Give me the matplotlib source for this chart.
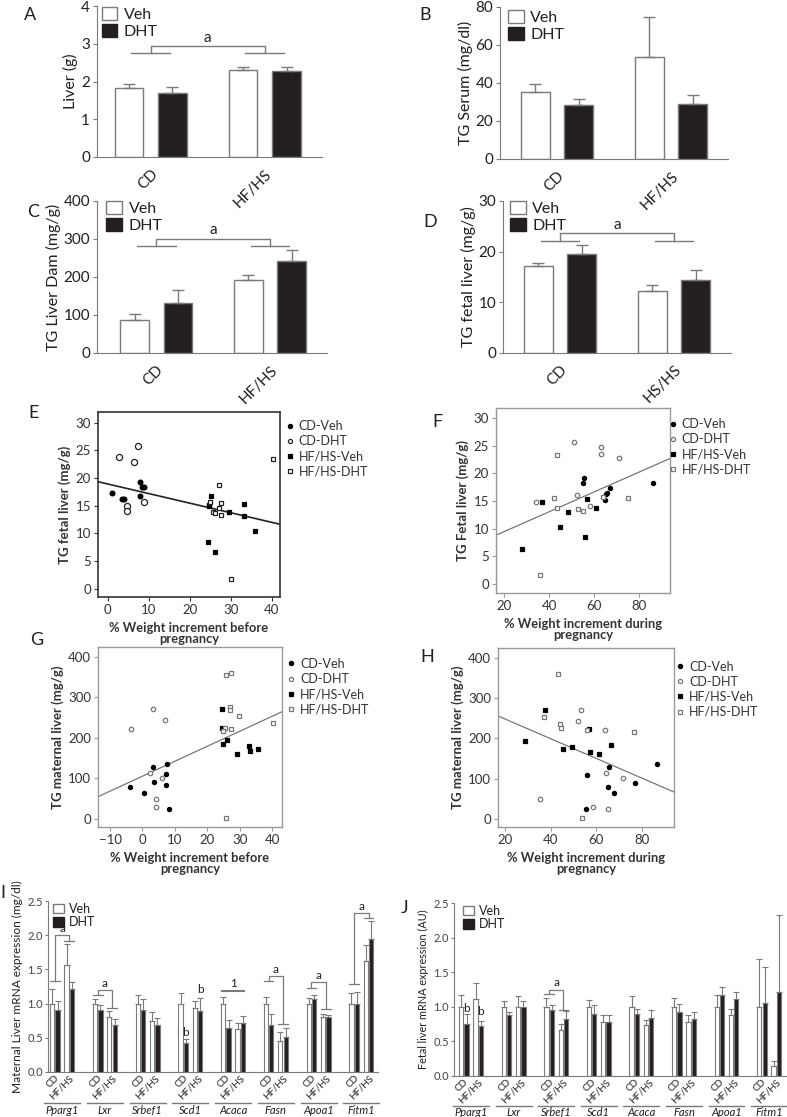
import numpy as np
import matplotlib
matplotlib.use('Agg')
import matplotlib.pyplot as plt
from matplotlib.patches import Patch
from matplotlib.lines import Line2D
from matplotlib.transforms import blended_transform_factory

plt.rcParams['font.family'] = ['Lato', 'DejaVu Sans']
plt.rcParams['axes.facecolor'] = 'none'

W, H = 787, 1117
EDGE = '#7a7a7a'
BLACK = '#231f20'
TXT = '#231f20'

# ---- panels A-D : [CD, HF/HS], error = top of bar - mean
groups = ['CD', 'HF/HS']
groups_d = ['CD', 'HS/HS']
liver_veh = [1.82, 2.31]
liver_veh_err = [0.11, 0.08]
liver_dht = [1.70, 2.28]
liver_dht_err = [0.16, 0.11]

serum_veh = [35.0, 53.5]
serum_veh_err = [4.7, 21.5]
serum_dht = [28.5, 29.0]
serum_dht_err = [3.3, 4.6]

dam_veh = [88, 193]
dam_veh_err = [14, 13]
dam_dht = [131, 241]
dam_dht_err = [36, 31]

fetal_veh = [17.2, 12.3]
fetal_veh_err = [0.6, 1.2]
fetal_dht = [19.6, 14.4]
fetal_dht_err = [1.8, 1.9]

# ---- panels E-H : scatter
scatter_labels = ['CD-Veh', 'CD-DHT', 'HF/HS-Veh', 'HF/HS-DHT']

e_cdveh_x = [1.0, 3.5, 4.0, 7.8, 8.3, 8.7, 7.8]
e_cdveh_y = [17.3, 16.2, 16.2, 19.2, 18.4, 18.3, 16.7]
e_cddht_x = [2.7, 7.4, 6.5, 4.7, 4.7, 8.7]
e_cddht_y = [23.7, 25.8, 22.8, 15.0, 14.0, 15.7]
e_hfveh_x = [25.2, 24.8, 24.8, 29.5, 33.1, 33.3, 35.9, 24.5, 26.1]
e_hfveh_y = [16.7, 15.2, 14.9, 13.9, 13.1, 15.3, 10.5, 8.5, 6.6]
e_hfdht_x = [27.1, 25.0, 27.6, 27.2, 25.7, 26.1, 27.6, 30.1, 40.2]
e_hfdht_y = [18.8, 15.6, 15.5, 14.6, 13.9, 13.7, 13.3, 1.7, 23.4]
e_fit = (-0.173, 18.9)  # slope, intercept

f_cdveh_x = [55.0, 55.6, 64.8, 65.2, 65.7, 67.2, 86.2]
f_cdveh_y = [18.2, 19.1, 15.2, 16.2, 16.5, 17.3, 18.3]
f_cddht_x = [51.3, 63.3, 63.3, 71.2, 34.3, 52.4, 58.1]
f_cddht_y = [25.7, 24.7, 23.5, 22.8, 14.8, 16.1, 14.1]
f_hfveh_x = [37.0, 28.0, 44.7, 48.3, 56.8, 60.8, 55.9]
f_hfveh_y = [14.9, 6.4, 10.4, 13.0, 15.3, 13.8, 8.5]
f_hfdht_x = [43.4, 42.3, 43.7, 53.0, 55.3, 75.1, 35.9, 64.0]
f_hfdht_y = [23.3, 15.5, 13.7, 13.5, 13.2, 15.5, 1.6, 15.7]
f_fit = (0.179, 5.9)

g_cdveh_x = [3.1, 7.6, 7.4, 3.7, 7.3, -3.9, 0.5, 8.3]
g_cdveh_y = [129, 137, 110, 91, 84, 80, 65, 24]
g_cddht_x = [-3.4, 3.4, 7.0, 2.3, 6.1, 4.2, 4.2]
g_cddht_y = [222, 272, 244, 114, 102, 49, 30]
g_hfveh_x = [24.6, 24.4, 24.9, 25.9, 29.2, 32.7, 33.1, 35.6]
g_hfveh_y = [272, 225, 184, 194, 161, 179, 168, 174]
g_hfdht_x = [25.7, 27.3, 27.0, 27.0, 29.9, 40.2, 25.3, 24.8, 27.3, 25.8]
g_hfdht_y = [356, 361, 277, 269, 254, 237, 225, 218, 222, 2.5]
g_fit = (3.70, 105.7)

h_cdveh_x = [65.7, 56.2, 65.1, 77.1, 86.5, 55.5, 67.9]
h_cdveh_y = [129, 109, 80, 90, 136, 24, 65]
h_cddht_x = [53.3, 52.1, 63.8, 64.1, 71.7, 35.3, 58.6, 65.3]
h_cddht_y = [272, 243, 221, 114, 102, 49, 30, 24]
h_hfveh_x = [37.8, 28.9, 45.4, 49.2, 56.8, 57.4, 61.3, 66.3]
h_hfveh_y = [272, 194, 173, 178, 224, 167, 161, 184]
h_hfdht_x = [43.1, 37.0, 44.2, 44.4, 55.9, 76.5, 53.9]
h_hfdht_y = [361, 253, 236, 225, 222, 217, 2.5]
h_fit = (-2.45, 297.6)

# ---- panels I-J : gene expression [CD-Veh, CD-DHT, HF-Veh, HF-DHT]
genes = ['Pparg1', 'Lxr', 'Srbef1', 'Scd1', 'Acaca', 'Fasn', 'Apoa1', 'Fitm1']

i_cdveh = [1.0, 1.0, 1.0, 1.0, 1.0, 1.0, 1.0, 1.0]
i_cdveh_err = [0.21, 0.07, 0.13, 0.16, 0.10, 0.10, 0.08, 0.15]
i_cddht = [0.90, 0.90, 0.90, 0.42, 0.65, 0.68, 1.06, 1.00]
i_cddht_err = [0.14, 0.08, 0.17, 0.06, 0.11, 0.17, 0.07, 0.17]
i_hfveh = [1.56, 0.80, 0.75, 0.93, 0.63, 0.46, 0.80, 1.62]
i_hfveh_err = [0.31, 0.09, 0.13, 0.11, 0.09, 0.12, 0.05, 0.24]
i_hfdht = [1.22, 0.68, 0.68, 0.89, 0.72, 0.51, 0.80, 1.94]
i_hfdht_err = [0.09, 0.10, 0.11, 0.19, 0.10, 0.13, 0.03, 0.27]
# (gene, y over CD pair, y over HF pair, bracket top, label)
i_brackets = [(0, 1.33, 1.91, 2.00, 'a'), (1, 1.13, 0.94, 1.20, 'a'),
              (5, 1.33, 0.70, 1.40, 'a'), (6, 1.235, 0.915, 1.31, 'a'),
              (7, 1.29, 2.25, 2.32, 'a')]
# (gene, bar index, y, label)
i_letters = [(3, 1, 0.50, 'b'), (3, 3, 1.12, 'b')]

j_cdveh = [1.0, 1.0, 1.0, 1.0, 1.0, 1.0, 1.0, 1.0]
j_cdveh_err = [0.17, 0.09, 0.12, 0.10, 0.15, 0.12, 0.17, 0.69]
j_cddht = [0.75, 0.88, 0.96, 0.90, 0.89, 0.93, 1.17, 1.05]
j_cddht_err = [0.14, 0.05, 0.07, 0.12, 0.08, 0.11, 0.11, 0.53]
j_hfveh = [1.11, 1.00, 0.66, 0.78, 0.73, 0.78, 0.88, 0.14]
j_hfveh_err = [0.23, 0.15, 0.09, 0.10, 0.08, 0.10, 0.09, 0.07]
j_hfdht = [0.72, 1.00, 0.83, 0.78, 0.84, 0.82, 1.11, 1.21]
j_hfdht_err = [0.08, 0.08, 0.11, 0.10, 0.12, 0.10, 0.11, 1.11]
j_brackets = [(2, 1.18, 0.95, 1.25, 'a')]
j_letters = [(0, 1, 0.90, 'b'), (0, 3, 0.85, 'b')]


def px_axes(fig, x0, y0, x1, y1):
    """ピクセル座標で軸を追加"""
    return fig.add_axes([x0 / W, 1 - y1 / H, (x1 - x0) / W, (y1 - y0) / H])


def veh_dht_legend(ax, x, y, fs=11.5, size=1.0):
    handles = [Patch(facecolor='white', edgecolor=EDGE, linewidth=1),
               Patch(facecolor=BLACK, edgecolor=BLACK)]
    ax.legend(handles, ['Veh', 'DHT'], loc='upper left', bbox_to_anchor=(x, y),
              frameon=False, fontsize=fs, handlelength=size, handleheight=size * 0.9,
              handletextpad=0.4, labelspacing=0.12, borderpad=0, borderaxespad=0,
              labelcolor=TXT)


def bar_panel(ax, veh, veh_err, dht, dht_err, ylim, ystep, ylabel, xlabels, xlim,
              bracket=None, leg=(0.02, 1.0)):
    x = np.arange(len(veh))
    ekw = dict(ecolor=EDGE, elinewidth=1, capsize=4, capthick=1)
    ax.bar(x - 0.19, veh, 0.25, yerr=[np.zeros(len(veh)), veh_err], color='white',
           edgecolor=EDGE, linewidth=1, error_kw=ekw, zorder=2)
    ax.bar(x + 0.19, dht, 0.25, yerr=[np.zeros(len(dht)), dht_err], color=BLACK,
           edgecolor=EDGE, linewidth=1, error_kw=ekw, zorder=2)
    ax.set_ylim(*ylim)
    ax.set_xlim(*xlim)
    ax.set_yticks(np.arange(ylim[0], ylim[1] + ystep / 2, ystep))
    ax.set_xticks(x)
    ax.set_xticklabels(xlabels, rotation=45, ha='right', rotation_mode='anchor',
                       fontsize=11, color=TXT)
    ax.tick_params(axis='x', length=0, pad=7)
    ax.tick_params(axis='y', length=3, color=EDGE, labelsize=11, labelcolor=TXT, pad=2)
    ax.set_ylabel(ylabel, fontsize=11.5, color=TXT, labelpad=2)
    for s in ['top', 'right']:
        ax.spines[s].set_visible(False)
    for s in ['left', 'bottom']:
        ax.spines[s].set_color(EDGE)
    if bracket:
        y_low, y_top = bracket
        for g in x:
            ax.plot([g - 0.17, g + 0.17], [y_low, y_low], color=EDGE, lw=1)
        ax.plot([0, 0, 1, 1], [y_low, y_top, y_top, y_low], color=EDGE, lw=1)
        ax.text(0.5, y_top + (ylim[1] - ylim[0]) * 0.01, 'a', ha='center', va='bottom',
                fontsize=11, color=TXT)
    veh_dht_legend(ax, *leg)


def scatter_panel(ax, sets, fit, xlim, ylim, xticks, yticks, ylabel, xlabel,
                  leg, dark=False):
    frame = '#333333' if dark else '#999999'
    hollow = '#222222' if dark else '#777777'
    if dark:
        sizes = [3.4, 4.4, 3.4, 3.4]
    else:
        sizes = [3.0, 3.2, 3.0, 3.2]
    styles = [dict(marker='o', mfc='black', mec='black'),
              dict(marker='o', mfc='white', mec=hollow),
              dict(marker='s', mfc='black', mec='black'),
              dict(marker='s', mfc='white', mec=hollow)]
    for (xs, ys), st, ms in zip(sets, styles, sizes):
        ax.plot(xs, ys, ls='none', mew=0.9, ms=ms, zorder=3, **st)
    slope, icpt = fit
    ax.axline((0, icpt), slope=slope, color='#222222' if dark else '#777777',
              lw=1.2 if dark else 0.9, zorder=2)
    ax.set_xlim(*xlim)
    ax.set_ylim(*ylim)
    ax.set_xticks(xticks)
    ax.set_yticks(yticks)
    ax.tick_params(length=3, color=frame, labelsize=9.5, labelcolor='#333333', pad=2)
    for s in ax.spines.values():
        s.set_color(frame)
        s.set_linewidth(1.2 if dark else 1.0)
    ax.set_ylabel(ylabel, fontsize=9.5, fontweight='bold', color='#333333', labelpad=3)
    ax.set_xlabel(xlabel, fontsize=9.3, fontweight='bold', color='#333333',
                  linespacing=0.92, labelpad=4)
    handles = [Line2D([], [], ls='none', mew=0.9, ms=3, **st) for st in styles]
    ax.legend(handles, scatter_labels, loc='upper left', bbox_to_anchor=leg,
              frameon=False, fontsize=9, handlelength=0.6, handletextpad=0.4,
              labelspacing=0.25, borderpad=0, borderaxespad=0, labelcolor='#333333')


def gene_panel(ax, vals, errs, ylabel, ylabel_fs, brackets, letters, xlim, line_y, name_y):
    offs = [-0.23, -0.105, 0.105, 0.23]
    colors = ['white', BLACK, 'white', BLACK]
    x = np.arange(len(genes))
    ekw = dict(ecolor=EDGE, elinewidth=0.8, capsize=2, capthick=0.8)
    for v, e, o, c in zip(vals, errs, offs, colors):
        ax.bar(x + o, v, 0.1, yerr=[np.zeros(len(v)), e], color=c, edgecolor=EDGE,
               linewidth=0.8, error_kw=ekw, zorder=2)
    ax.set_xlim(*xlim)
    ax.set_ylim(0, 2.5)
    ax.set_yticks(np.arange(0, 2.51, 0.5))
    ax.set_yticklabels([f'{t:.1f}' for t in np.arange(0, 2.51, 0.5)])
    ticks = np.sort(np.concatenate([x - 0.17, x + 0.17]))
    ax.set_xticks(ticks)
    ax.set_xticklabels(['CD', 'HF/HS'] * len(genes), rotation=45, ha='right',
                       rotation_mode='anchor', fontsize=7, color=TXT)
    ax.tick_params(axis='x', length=0, pad=1)
    ax.tick_params(axis='y', length=2.5, color=EDGE, labelsize=8, labelcolor='#444444', pad=1)
    ax.set_ylabel(ylabel, fontsize=ylabel_fs, color=TXT, labelpad=3)
    for s in ['top', 'right']:
        ax.spines[s].set_visible(False)
    for s in ['left', 'bottom']:
        ax.spines[s].set_color(EDGE)
    trans = blended_transform_factory(ax.transData, ax.transAxes)
    for i, g in enumerate(genes):
        ax.plot([i - 0.42, i + 0.42], [line_y, line_y], color=EDGE, lw=1,
                transform=trans, clip_on=False)
        ax.text(i, name_y, g, transform=trans, ha='center', va='center',
                fontsize=8, style='italic', color=TXT)
    for i, y_cd, y_hf, y_top, lab in brackets:
        ax.plot([i - 0.28, i - 0.055], [y_cd, y_cd], color=EDGE, lw=0.9)
        ax.plot([i + 0.055, i + 0.28], [y_hf, y_hf], color=EDGE, lw=0.9)
        ax.plot([i - 0.17, i - 0.17, i + 0.17, i + 0.17], [y_cd, y_top, y_top, y_hf],
                color=EDGE, lw=0.9)
        ax.text(i, y_top + 0.02, lab, ha='center', va='bottom', fontsize=8.5, color=TXT)
    for i, b, y, lab in letters:
        ax.text(i + offs[b], y, lab, ha='center', va='bottom', fontsize=8.5, color=TXT)


fig = plt.figure(figsize=(W / 100, H / 100), dpi=100)

axA = px_axes(fig, 97, 6, 322, 157)
bar_panel(axA, liver_veh, liver_veh_err, liver_dht, liver_dht_err, (0, 4), 1,
          'Liver (g)', groups, (-0.47, 1.5), bracket=(2.75, 2.93), leg=(0.02, 0.995))

axB = px_axes(fig, 500, 7, 728, 159)
bar_panel(axB, serum_veh, serum_veh_err, serum_dht, serum_dht_err, (0, 80), 20,
          'TG Serum (mg/dl)', groups, (-0.5, 1.5), leg=(0.035, 0.98))

axC = px_axes(fig, 97, 201, 327, 353)
bar_panel(axC, dam_veh, dam_veh_err, dam_dht, dam_dht_err, (0, 400), 100,
          'TG Liver Dam (mg/g)', groups, (-0.52, 1.5), bracket=(282, 300), leg=(0.04, 1.0))

axD = px_axes(fig, 503, 201, 731, 353)
bar_panel(axD, fetal_veh, fetal_veh_err, fetal_dht, fetal_dht_err, (0, 30), 10,
          'TG fetal liver (mg/g)', groups_d, (-0.5, 1.5), bracket=(22.2, 23.6), leg=(0.03, 1.0))

before = '% Weight increment before\npregnancy'
during = '% Weight increment during\npregnancy'

axE = px_axes(fig, 98, 412, 280, 597)
scatter_panel(axE, [(e_cdveh_x, e_cdveh_y), (e_cddht_x, e_cddht_y),
                    (e_hfveh_x, e_hfveh_y), (e_hfdht_x, e_hfdht_y)],
              e_fit, (-2.4, 42), (-1.5, 31.9), range(0, 41, 10), range(0, 31, 5),
              'TG fetal liver (mg/g)', before, (1.035, 0.955), dark=True)

axF = px_axes(fig, 496, 408, 670, 593)
scatter_panel(axF, [(f_cdveh_x, f_cdveh_y), (f_cddht_x, f_cddht_y),
                    (f_hfveh_x, f_hfveh_y), (f_hfdht_x, f_hfdht_y)],
              f_fit, (16.4, 93.8), (-1.6, 31.8), range(20, 81, 20), range(0, 31, 5),
              'TG Fetal liver (mg/g)', during, (0.995, 0.945))

axG = px_axes(fig, 98, 647, 282, 827)
scatter_panel(axG, [(g_cdveh_x, g_cdveh_y), (g_cddht_x, g_cddht_y),
                    (g_hfveh_x, g_hfveh_y), (g_hfdht_x, g_hfdht_y)],
              g_fit, (-13.7, 43), (-19.8, 424.7), range(-10, 41, 10), range(0, 401, 100),
              'TG maternal liver (mg/g)', before, (1.03, 0.94))

axH = px_axes(fig, 498, 648, 674, 827)
scatter_panel(axH, [(h_cdveh_x, h_cdveh_y), (h_cddht_x, h_cddht_y),
                    (h_hfveh_x, h_hfveh_y), (h_hfdht_x, h_hfdht_y)],
              h_fit, (17.0, 94.1), (-19.9, 424.8), range(20, 81, 20), range(0, 401, 100),
              'TG maternal liver (mg/g)', during, (1.015, 0.93))

axI = px_axes(fig, 48, 901, 378, 1072)
gene_panel(axI, [i_cdveh, i_cddht, i_hfveh, i_hfdht],
           [i_cdveh_err, i_cddht_err, i_hfveh_err, i_hfdht_err],
           'Maternal Liver mRNA expression (mg/dl)', 8.6, i_brackets, i_letters,
           (-0.33, 7.39), -0.18, -0.225)
axI.plot([4 - 0.26, 4 + 0.26], [1.19, 1.19], color=EDGE, lw=1.5)
axI.text(4, 1.21, '1', ha='center', va='bottom', fontsize=8.5, color=TXT)
veh_dht_legend(axI, 0.015, 0.99, fs=9, size=0.9)

axJ = px_axes(fig, 454, 903, 787, 1076)
gene_panel(axJ, [j_cdveh, j_cddht, j_hfveh, j_hfdht],
           [j_cdveh_err, j_cddht_err, j_hfveh_err, j_hfdht_err],
           'Fetal liver mRNA expression (AU)', 7.8, j_brackets, j_letters,
           (-0.4, 7.42), -0.172, -0.212)
veh_dht_legend(axJ, 0.026, 0.99, fs=9, size=0.9)

# パネル記号
for lab, x, y in [('A', 30, 15), ('B', 425, 15), ('C', 33, 212), ('D', 430, 222),
                  ('E', 34, 413), ('F', 437, 422), ('G', 37, 640), ('H', 427, 657),
                  ('I', 3, 893), ('J', 405, 908)]:
    fig.text(x / W, 1 - y / H, lab, fontsize=13, ha='center', va='center', color=TXT)

fig.savefig('out.png', dpi=100)
